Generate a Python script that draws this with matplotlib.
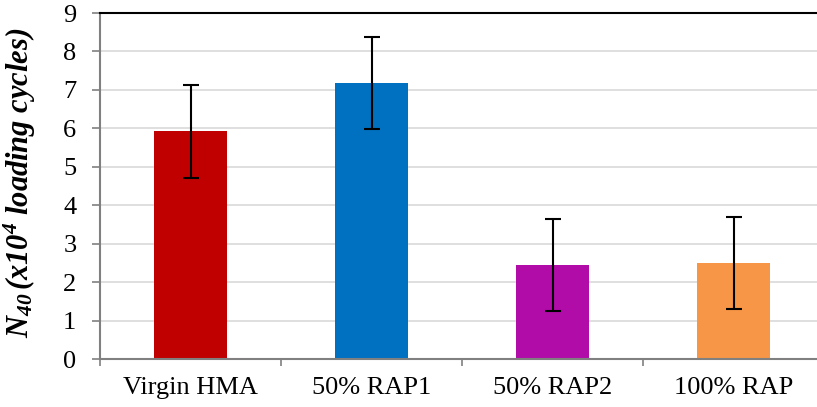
import matplotlib
matplotlib.use("Agg")
import matplotlib.pyplot as plt
import numpy as np

plt.rcParams['font.family'] = ['Liberation Serif', 'DejaVu Serif']
plt.rcParams['mathtext.fontset'] = 'custom'
plt.rcParams['mathtext.rm'] = 'Liberation Serif'
plt.rcParams['mathtext.it'] = 'Liberation Serif:italic'
plt.rcParams['mathtext.bf'] = 'Liberation Serif:italic:bold'

# data
categories = ['Virgin HMA', '50% RAP1', '50% RAP2', '100% RAP']
n40 = [5.92, 7.17, 2.45, 2.50]
err = [1.20, 1.20, 1.20, 1.20]
colors = ['#C00000', '#0070C0', '#B10CA8', '#F79646']

fig = plt.figure(figsize=(8.17, 4.07), dpi=100)
# right edge sits a bit past the picture, as in the original
ax = fig.add_axes([100/817, 1-359/407, 724/817, 346/407])

x = np.arange(len(categories))
ax.bar(x, n40, width=0.40, color=colors, zorder=2)
ax.errorbar(x, n40, yerr=err, fmt='none', ecolor='black', elinewidth=1.5,
            capsize=6, capthick=1.5, zorder=3)

ax.set_xlim(-0.5, len(categories) - 0.5)
ax.set_ylim(0, 9)
ax.set_yticks(range(0, 10))
ax.yaxis.grid(True, color='#D9D9D9', linewidth=1.2, zorder=0)
ax.set_axisbelow(True)

ax.set_xticks(x)
ax.set_xticklabels(categories, fontsize=19)
ax.set_xticks(np.arange(-0.5, len(categories)), minor=True)
ax.tick_params(axis='x', which='major', length=0, pad=13)
ax.tick_params(axis='x', which='minor', length=5, width=1.2, color='#808080')
ax.tick_params(axis='y', length=6, width=1.2, color='#808080', labelsize=19, pad=11)

ax.spines['left'].set_color('#808080')
ax.spines['left'].set_linewidth(1.5)
ax.spines['bottom'].set_color('#808080')
ax.spines['bottom'].set_linewidth(1.5)
ax.spines['top'].set_color('black')
ax.spines['top'].set_linewidth(1.5)
ax.spines['right'].set_visible(False)

ax.set_ylabel(r'$\mathbf{N_{40}\,(x10^{4}\ loading\ cycles)}$', fontsize=22)
ax.yaxis.set_label_coords(-62/724, 0.51)

fig.savefig('out.png', dpi=100)
